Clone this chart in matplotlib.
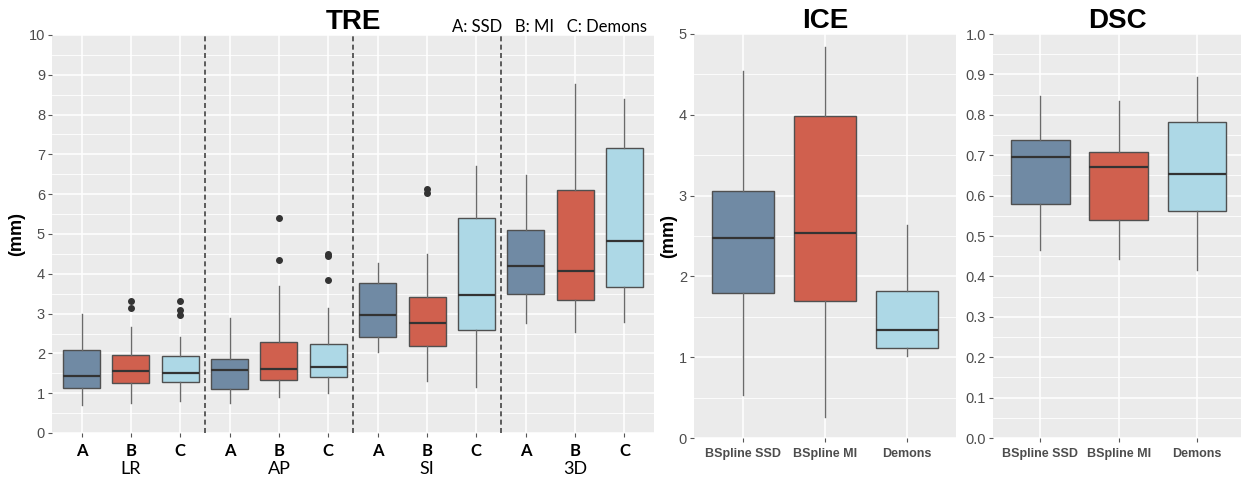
import matplotlib
matplotlib.use("Agg")
import matplotlib.pyplot as plt
import matplotlib.transforms as mtransforms
from matplotlib.ticker import MultipleLocator

# ---------------- data ----------------
groups = ["LR", "AP", "SI", "3D"]
method_letters = ["A", "B", "C"]
legend_text = "A: SSD   B: MI   C: Demons"

tre_low  = [0.70, 0.75, 0.80, 0.75, 0.90, 1.01, 2.04, 1.31, 1.16, 2.76, 2.55, 2.80]
tre_q1   = [1.14, 1.25, 1.27, 1.10, 1.33, 1.41, 2.40, 2.19, 2.60, 3.48, 3.33, 3.66]
tre_med  = [1.43, 1.55, 1.52, 1.58, 1.61, 1.67, 2.96, 2.77, 3.46, 4.20, 4.07, 4.82]
tre_q3   = [2.09, 1.97, 1.94, 1.85, 2.28, 2.23, 3.76, 3.41, 5.41, 5.10, 6.11, 7.17]
tre_high = [2.99, 2.67, 2.42, 2.88, 3.69, 3.15, 4.26, 4.51, 6.71, 6.47, 8.76, 8.38]
tre_out  = [[], [3.13, 3.32], [2.96, 3.09, 3.32], [], [4.35, 5.39], [3.84, 4.45, 4.51],
            [], [6.03, 6.13], [], [], [], []]

methods = ["BSpline SSD", "BSpline MI", "Demons"]
ice_low  = [0.53, 0.26, 1.02]
ice_q1   = [1.80, 1.69, 1.12]
ice_med  = [2.48, 2.54, 1.34]
ice_q3   = [3.06, 3.99, 1.82]
ice_high = [4.54, 4.84, 2.64]

dsc_low  = [0.465, 0.443, 0.415]
dsc_q1   = [0.578, 0.540, 0.563]
dsc_med  = [0.696, 0.672, 0.654]
dsc_q3   = [0.738, 0.709, 0.781]
dsc_high = [0.847, 0.835, 0.894]

colors = ["#708AA4", "#D0604E", "#ADD8E6"]

# ---------------- helpers ----------------
W, H = 1241, 479
fig = plt.figure(figsize=(W / 100, H / 100), dpi=100)
fig.patch.set_facecolor("white")


def px_axes(left, top, right, bottom):
    return fig.add_axes([left / W, (H - bottom) / H, (right - left) / W, (bottom - top) / H])


def style(ax, minor):
    ax.set_facecolor("#EBEBEB")
    for s in ax.spines.values():
        s.set_visible(False)
    ax.yaxis.set_minor_locator(MultipleLocator(minor))
    ax.grid(which="major", color="white", linewidth=1.1)
    ax.grid(which="minor", axis="y", color="white", linewidth=0.6)
    ax.set_axisbelow(True)
    ax.tick_params(which="major", length=3, width=0.8, color="#555555",
                   labelcolor="#4D4D4D", pad=2)
    ax.tick_params(which="minor", length=0)
    ax.tick_params(axis="y", labelsize=10.5)
    for lab in ax.get_yticklabels():
        lab.set_fontfamily("Liberation Sans")


def draw_boxes(ax, lows, q1s, meds, q3s, highs, fliers, fill):
    stats = []
    for lo, a, m, b, hi, fl in zip(lows, q1s, meds, q3s, highs, fliers):
        stats.append(dict(whislo=lo, q1=a, med=m, q3=b, whishi=hi, fliers=fl))
    pos = list(range(1, len(stats) + 1))
    bp = ax.bxp(stats, positions=pos, widths=0.75, patch_artist=True,
                showcaps=False, manage_ticks=False,
                boxprops=dict(edgecolor="#505050", linewidth=1.0),
                medianprops=dict(color="#333333", linewidth=1.6),
                whiskerprops=dict(color="#6A6A6A", linewidth=1.0),
                flierprops=dict(marker="o", markerfacecolor="#333333",
                                markeredgecolor="#333333", markersize=4))
    for patch, c in zip(bp["boxes"], fill):
        patch.set_facecolor(c)
    return pos


# ---------------- TRE ----------------
ax1 = px_axes(52, 35, 654, 433)
n_tre = len(tre_med)
pos = draw_boxes(ax1, tre_low, tre_q1, tre_med, tre_q3, tre_high, tre_out,
                 [colors[i % 3] for i in range(n_tre)])
ax1.set_xlim(0.4, n_tre + 0.6)
ax1.set_ylim(0, 10)
ax1.set_yticks(range(0, 11))
ax1.set_xticks(pos)
ax1.set_xticklabels([method_letters[i % 3] for i in range(n_tre)],
                    fontfamily="Lato", fontweight="bold", fontsize=12, color="black")
style(ax1, 0.5)
ax1.tick_params(axis="x", pad=4, labelcolor="black")
for k in range(1, len(groups)):
    ax1.axvline(3 * k + 0.5, color="#444444", linestyle=(0, (3, 2)), linewidth=1.2)
trans = mtransforms.blended_transform_factory(ax1.transData, ax1.transAxes)
for k, g in enumerate(groups):
    ax1.text(3 * k + 2, -0.09, g, transform=trans, ha="center", va="center",
             fontfamily="Lato", fontsize=13, color="black")
ax1.set_title("TRE", fontsize=20, fontweight="bold", fontfamily="Liberation Sans", pad=4)
ax1.text(0.988, 1.008, legend_text, transform=ax1.transAxes, ha="right", va="baseline",
         fontfamily="Lato", fontsize=12, color="black")
ax1.set_ylabel("(mm)", fontsize=13, fontweight="bold", fontfamily="Liberation Sans")
ax1.yaxis.set_label_coords(-0.045, 0.5)

# ---------------- ICE ----------------
ax2 = px_axes(694, 34, 956, 438)
pos = draw_boxes(ax2, ice_low, ice_q1, ice_med, ice_q3, ice_high, [[], [], []], colors)
ax2.set_xlim(0.4, 3.6)
ax2.set_ylim(0, 5)
ax2.set_yticks(range(0, 6))
ax2.set_xticks(pos)
ax2.set_xticklabels(methods, fontfamily="Liberation Sans", fontweight="bold", fontsize=9)
style(ax2, 0.5)
ax2.tick_params(axis="x", pad=4)
ax2.set_title("ICE", fontsize=20, fontweight="bold", fontfamily="Liberation Sans", pad=4)
ax2.set_ylabel("(mm)", fontsize=13, fontweight="bold", fontfamily="Liberation Sans")
ax2.yaxis.set_label_coords(-0.065, 0.5)

# ---------------- DSC ----------------
ax3 = px_axes(993, 34, 1241, 438)
pos = draw_boxes(ax3, dsc_low, dsc_q1, dsc_med, dsc_q3, dsc_high, [[], [], []], colors)
ax3.set_xlim(0.4, 3.56)
ax3.set_ylim(0, 1.0)
ax3.set_yticks([i / 10 for i in range(11)])
ax3.set_yticklabels([f"{i / 10:.1f}" for i in range(11)])
ax3.set_xticks(pos)
ax3.set_xticklabels(methods, fontfamily="Liberation Sans", fontweight="bold", fontsize=9)
style(ax3, 0.05)
ax3.tick_params(axis="x", pad=4)
ax3.set_title("DSC", fontsize=20, fontweight="bold", fontfamily="Liberation Sans", pad=4)

fig.savefig("out.png", dpi=100)
